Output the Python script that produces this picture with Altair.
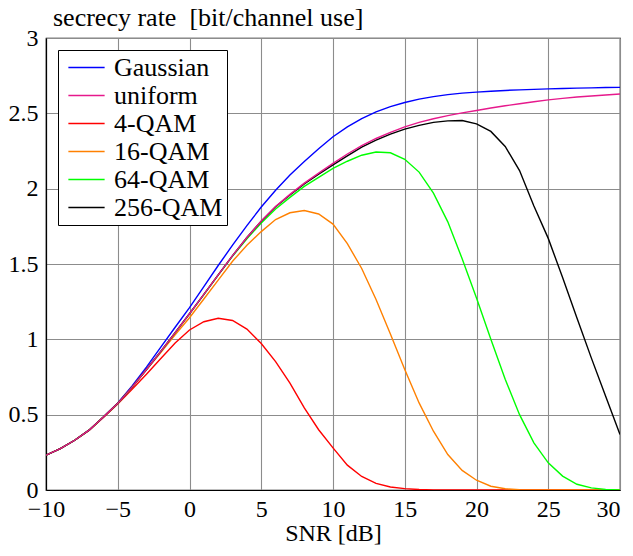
import altair as alt
import pandas as pd

snr = list(range(-10, 31))

gaussian = [0.231, 0.275, 0.330, 0.397, 0.485, 0.577, 0.690, 0.815, 0.948, 1.080, 1.210,
            1.350, 1.490, 1.625, 1.755, 1.878, 1.990, 2.090, 2.180, 2.265, 2.345,
            2.410, 2.465, 2.510, 2.545, 2.572, 2.594, 2.611, 2.624, 2.634, 2.641,
            2.647, 2.652, 2.656, 2.659, 2.662, 2.665, 2.667, 2.669, 2.671, 2.672]
uniform = [0.231, 0.275, 0.330, 0.397, 0.484, 0.575, 0.683, 0.800, 0.920, 1.045, 1.170,
           1.298, 1.428, 1.556, 1.676, 1.785, 1.882, 1.962, 2.037, 2.103, 2.168,
           2.230, 2.285, 2.333, 2.374, 2.410, 2.440, 2.464, 2.485, 2.503, 2.519,
           2.535, 2.550, 2.564, 2.577, 2.589, 2.599, 2.608, 2.615, 2.622, 2.628]
qam4 = [0.231, 0.275, 0.330, 0.396, 0.482, 0.570, 0.668, 0.768, 0.873, 0.975, 1.062,
        1.117, 1.140, 1.125, 1.068, 0.972, 0.852, 0.710, 0.545, 0.400, 0.280,
        0.165, 0.090, 0.044, 0.020, 0.009, 0.003, 0.001, 0.0, 0.0, 0.0,
        0.0, 0.0, 0.0, 0.0, 0.0, 0.0, 0.0, 0.0, 0.0, 0.0]
qam16 = [0.231, 0.275, 0.330, 0.397, 0.484, 0.575, 0.682, 0.797, 0.913, 1.030, 1.143,
         1.268, 1.393, 1.518, 1.625, 1.715, 1.795, 1.840, 1.855, 1.832, 1.765,
         1.635, 1.470, 1.265, 1.035, 0.800, 0.578, 0.390, 0.235, 0.130, 0.065,
         0.025, 0.008, 0.002, 0.0, 0.0, 0.0, 0.0, 0.0, 0.0, 0.0]
qam64 = [0.231, 0.275, 0.330, 0.397, 0.484, 0.575, 0.683, 0.800, 0.920, 1.045, 1.170,
         1.297, 1.426, 1.552, 1.668, 1.772, 1.865, 1.942, 2.015, 2.075, 2.135,
         2.182, 2.222, 2.243, 2.238, 2.195, 2.110, 1.970, 1.780, 1.535, 1.275,
         1.000, 0.735, 0.500, 0.313, 0.180, 0.092, 0.038, 0.014, 0.004, 0.001]
qam256 = [0.231, 0.275, 0.330, 0.397, 0.484, 0.575, 0.683, 0.800, 0.920, 1.045, 1.170,
          1.298, 1.428, 1.556, 1.676, 1.784, 1.880, 1.958, 2.032, 2.096, 2.158,
          2.218, 2.276, 2.322, 2.362, 2.395, 2.420, 2.440, 2.450, 2.452, 2.430,
          2.380, 2.280, 2.120, 1.885, 1.670, 1.410, 1.142, 0.877, 0.622, 0.368]

series_names = ["Gaussian", "uniform", "4-QAM", "16-QAM", "64-QAM", "256-QAM"]
series_colors = ["#0000ff", "#e6198c", "#ff0000", "#ff8000", "#00ff00", "#000000"]
x_ticks = [-10, -5, 0, 5, 10, 15, 20, 25, 30]
y_ticks = [0, 0.5, 1, 1.5, 2, 2.5, 3]
y_title = "secrecy rate\u00a0 [bit/channel use]"
x_title = "SNR [dB]"

rows = []
for name, vals in zip(series_names, [gaussian, uniform, qam4, qam16, qam64, qam256]):
    for s, v in zip(snr, vals):
        rows.append({"snr": s, "rate": v, "series": name})
df = pd.DataFrame(rows)

FONT = "Liberation Serif"

color = alt.Color(
    "series:N",
    scale=alt.Scale(domain=series_names, range=series_colors),
    legend=alt.Legend(
        title=None,
        orient="none",
        legendX=12,
        legendY=12,
        strokeColor="black",
        fillColor="white",
        padding=4,
        cornerRadius=0,
        symbolType="M-1.45,0L1.45,0",
        symbolSize=625,
        symbolStrokeWidth=1.5,
        symbolOffset=11,
        labelOffset=14,
        labelFont=FONT,
        labelFontSize=26,
        labelColor="black",
        labelLimit=400,
        rowPadding=1,
    ),
)

x = alt.X(
    "snr:Q",
    scale=alt.Scale(domain=[-10, 30], nice=False),
    axis=alt.Axis(values=x_ticks, format="~g", title=x_title, labelFlush=False,
                  labelOverlap=False, labelPadding=7, titlePadding=0,
                  labelAlign={"condition": {"test": "datum.value == 30", "value": "right"},
                              "value": "center"}),
)
y = alt.Y(
    "rate:Q",
    scale=alt.Scale(domain=[0, 3], nice=False),
    axis=alt.Axis(values=y_ticks, format="~g", title=None, labelFlush=False,
                  labelOverlap=False, labelPadding=8),
)

base = alt.Chart(df).mark_line(strokeWidth=1.4, clip=True).encode(x=x, y=y, color=color)
others = base.transform_filter(alt.datum.series != "uniform")
unif = base.transform_filter(alt.datum.series == "uniform")

title_layer = (
    alt.Chart(pd.DataFrame({"t": [y_title]}))
    .mark_text(font=FONT, fontSize=26, color="black", align="left", baseline="alphabetic")
    .encode(text="t:N", x=alt.value(7), y=alt.value(-12))
)

chart = (
    alt.layer(others, unif, title_layer)
    .properties(
        width=574,
        height=452,
        autosize="none",
        padding={"left": 38, "top": 30, "right": 5, "bottom": 58},
    )
    .configure_view(stroke="black", strokeWidth=1.2)
    .configure_axis(
        labelFont=FONT,
        labelFontSize=24,
        labelColor="black",
        titleFont=FONT,
        titleFontSize=24,
        titleFontWeight="normal",
        titleColor="black",
        grid=True,
        gridColor="#8c8c8c",
        gridWidth=1.1,
        ticks=False,
        domainColor="black",
        domainWidth=1.2,
    )
)

chart.save("out.html", embed_options={"renderer": "svg", "actions": False})
